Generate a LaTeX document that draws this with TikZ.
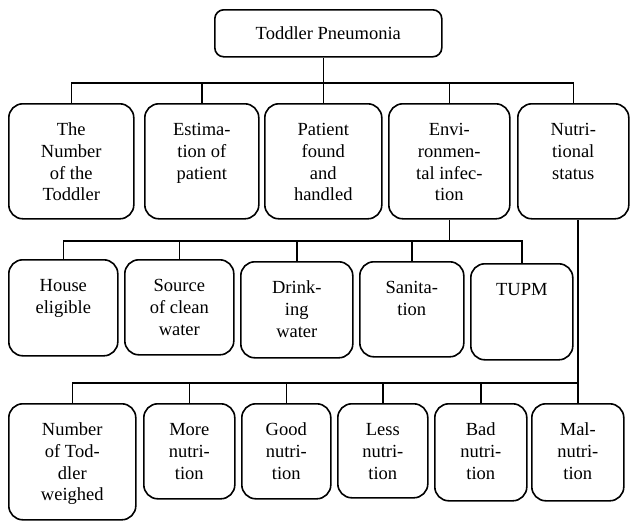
\documentclass[tikz,border=0pt]{standalone}
\usepackage{fontspec}
\setmainfont{LiberationSerif}[Extension=.ttf, UprightFont=*-Regular, BoldFont=*-Bold]
\usetikzlibrary{calc}

% text sits at the top of each box, as in the source chart
\newcommand{\boxtxt}[3]{\parbox[c][#2][t]{#1}{\centering\rule{0pt}{32pt}#3}}

\begin{document}
\begin{tikzpicture}[x=1pt,y=-1pt,
  font=\rmfamily\fontsize{18.5}{21.7}\selectfont,
  box/.style={draw, line width=1.6pt, rounded corners=14pt, inner sep=0pt, anchor=north west},
  link/.style={line width=1.6pt}]
\useasboundingbox (0,0) rectangle (630,522);

\node[draw, line width=1.6pt, rounded corners=9pt, inner sep=0pt, anchor=north west,
      minimum width=227pt, minimum height=47pt] (root) at (214,9) {Toddler Pneumonia};

% first level
\node[box] (num)  at (8,103)   {\boxtxt{125pt}{115pt}{The\\Number\\of the\\Toddler}};
\node[box] (est)  at (144,103) {\boxtxt{114pt}{115pt}{Estima-\\tion of\\patient}};
\node[box] (pat)  at (264,103) {\boxtxt{117pt}{115pt}{Patient\\found\\and\\handled}};
\node[box] (env)  at (388,103) {\boxtxt{121pt}{115pt}{Envi-\\ronmen-\\tal infec-\\tion}};
\node[box] (nut)  at (517,103) {\boxtxt{111pt}{115pt}{Nutri-\\tional\\status}};

% environment
\node[box] (house) at (8,259)   {\boxtxt{109pt}{96pt}{House\\eligible}};
\node[box] (src)   at (124,259) {\boxtxt{109pt}{95pt}{Source\\of clean\\water}};
\node[box] (drink) at (240,261) {\boxtxt{112pt}{96pt}{Drink-\\ing\\water}};
\node[box] (sani)  at (359,261) {\boxtxt{104pt}{95pt}{Sanita-\\tion}};
\node[box] (tupm)  at (470,263) {\boxtxt{102pt}{96pt}{TUPM}};

% nutrition
\node[box] (weigh) at (8,403)   {\boxtxt{127pt}{116pt}{Number\\of Tod-\\dler\\weighed}};
\node[box] (more)  at (143,403) {\boxtxt{91pt}{95pt}{More\\nutri-\\tion}};
\node[box] (good)  at (241,403) {\boxtxt{89pt}{95pt}{Good\\nutri-\\tion}};
\node[box] (less)  at (337,403) {\boxtxt{90pt}{94pt}{Less\\nutri-\\tion}};
\node[box] (bad)   at (434,403) {\boxtxt{92pt}{97pt}{Bad\\nutri-\\tion}};
\node[box] (mal)   at (531,403) {\boxtxt{92pt}{97pt}{Mal-\\nutri-\\tion}};

\coordinate (bar1) at (0,83);
\coordinate (bar2) at (0,241);
\coordinate (bar3) at (0,383);

\draw[link] (pat.north) -- (pat.north |- root.south);
\draw[link] (num.north) -- (num.north |- bar1) -| (nut.north);
\draw[link] (est.north) -- (est.north |- bar1);
\draw[link] (env.north) -- (env.north |- bar1);

\draw[link] (env.south) -- (env.south |- bar2);
\draw[link] (house.north) -- (house.north |- bar2) -| (tupm.north);
\draw[link] (src.north) -- (src.north |- bar2);
\draw[link] (drink.north) -- (drink.north |- bar2);
\draw[link] (sani.north) -- (sani.north |- bar2);

\draw[link] (mal.north) -- (mal.north |- nut.south);
\draw[link] (weigh.north) -- (weigh.north |- bar3) -| (mal.north);
\draw[link] (more.north) -- (more.north |- bar3);
\draw[link] (good.north) -- (good.north |- bar3);
\draw[link] (less.north) -- (less.north |- bar3);
\draw[link] (bad.north) -- (bad.north |- bar3);
\end{tikzpicture}
\end{document}
